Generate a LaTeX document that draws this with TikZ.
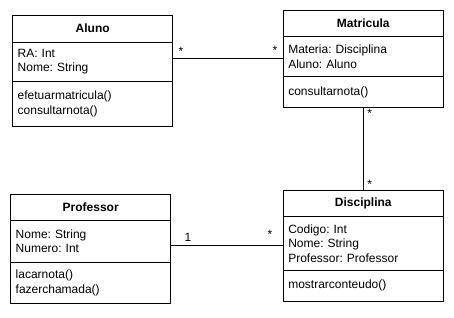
\documentclass[tikz,border=0pt]{standalone}
\usepackage{fontspec}
\setmainfont{Liberation Sans}
\usepackage{tikz}
\usetikzlibrary{positioning,calc}
\frenchspacing
\newcommand{\umlfont}{\fontsize{12bp}{14.5bp}\selectfont}
\newcommand{\umlclass}[9]{% #1 name, #2-#3 top left, #4-#6 part heights, #7 title, #8 attributes, #9 operations
  \node[classpart, minimum height=#4bp, font=\umlfont\bfseries, align=center, anchor=north west] (#1) at (#2,#3) {#7};
  \node[classpart, minimum height=#5bp, below=0pt of #1] (#1-attr) {#8};
  \node[classpart, minimum height=#6bp, below=0pt of #1-attr] (#1-ops) {#9};
}

\begin{document}
\begin{tikzpicture}[x=1bp, y=-1bp, every node/.style={font=\umlfont},
    classpart/.style={draw, line width=0.9bp, text width=150bp, inner xsep=5bp, inner ysep=0pt, outer sep=0pt, align=left},
    mult/.style={inner sep=1.5bp}]
  \useasboundingbox (0,0) rectangle (454,317);
  \umlclass{aluno}{12.7}{15.3}{26.7}{39.3}{45.4}{Aluno}{RA: Int\\Nome: String}{efetuarmatricula()\\consultarnota()}
  \umlclass{matricula}{283.3}{10.7}{26}{40}{30.6}{Matricula}{Materia: Disciplina\\Aluno: Aluno}{consultarnota()}
  \umlclass{professor}{10.7}{194.7}{26}{41.3}{41.3}{Professor}{Nome: String\\Numero: Int}{lacarnota()\\fazerchamada()}
  \umlclass{disciplina}{283.3}{190}{26.7}{53.3}{31.7}{Disciplina}{Codigo: Int\\Nome: String\\Professor: Professor}{mostrarconteudo()}
  % associations
  \coordinate (mat-in) at ([yshift=-2bp]matricula-attr.west);
  \coordinate (dis-in) at ([yshift=-2.5bp]disciplina-attr.west);
  \draw[line width=0.9bp] (aluno-attr.east |- mat-in) -- node[mult, pos=0, anchor=south west, xshift=4bp, yshift=1bp] {*}
    node[mult, pos=1, anchor=south east, xshift=-4bp, yshift=2bp] {*} (mat-in);
  \draw[line width=0.9bp] (matricula-ops.south) -- node[mult, pos=0, anchor=north west, xshift=2bp] {*}
    node[mult, pos=1, anchor=south west, xshift=2bp] {*} (disciplina.north);
  \draw[line width=0.9bp] (professor-attr.east |- dis-in) -- node[mult, pos=0, anchor=south west, xshift=12bp, yshift=2bp] {1}
    node[mult, pos=1, anchor=south east, xshift=-9bp, yshift=5bp] {*} (dis-in);
\end{tikzpicture}
\end{document}
